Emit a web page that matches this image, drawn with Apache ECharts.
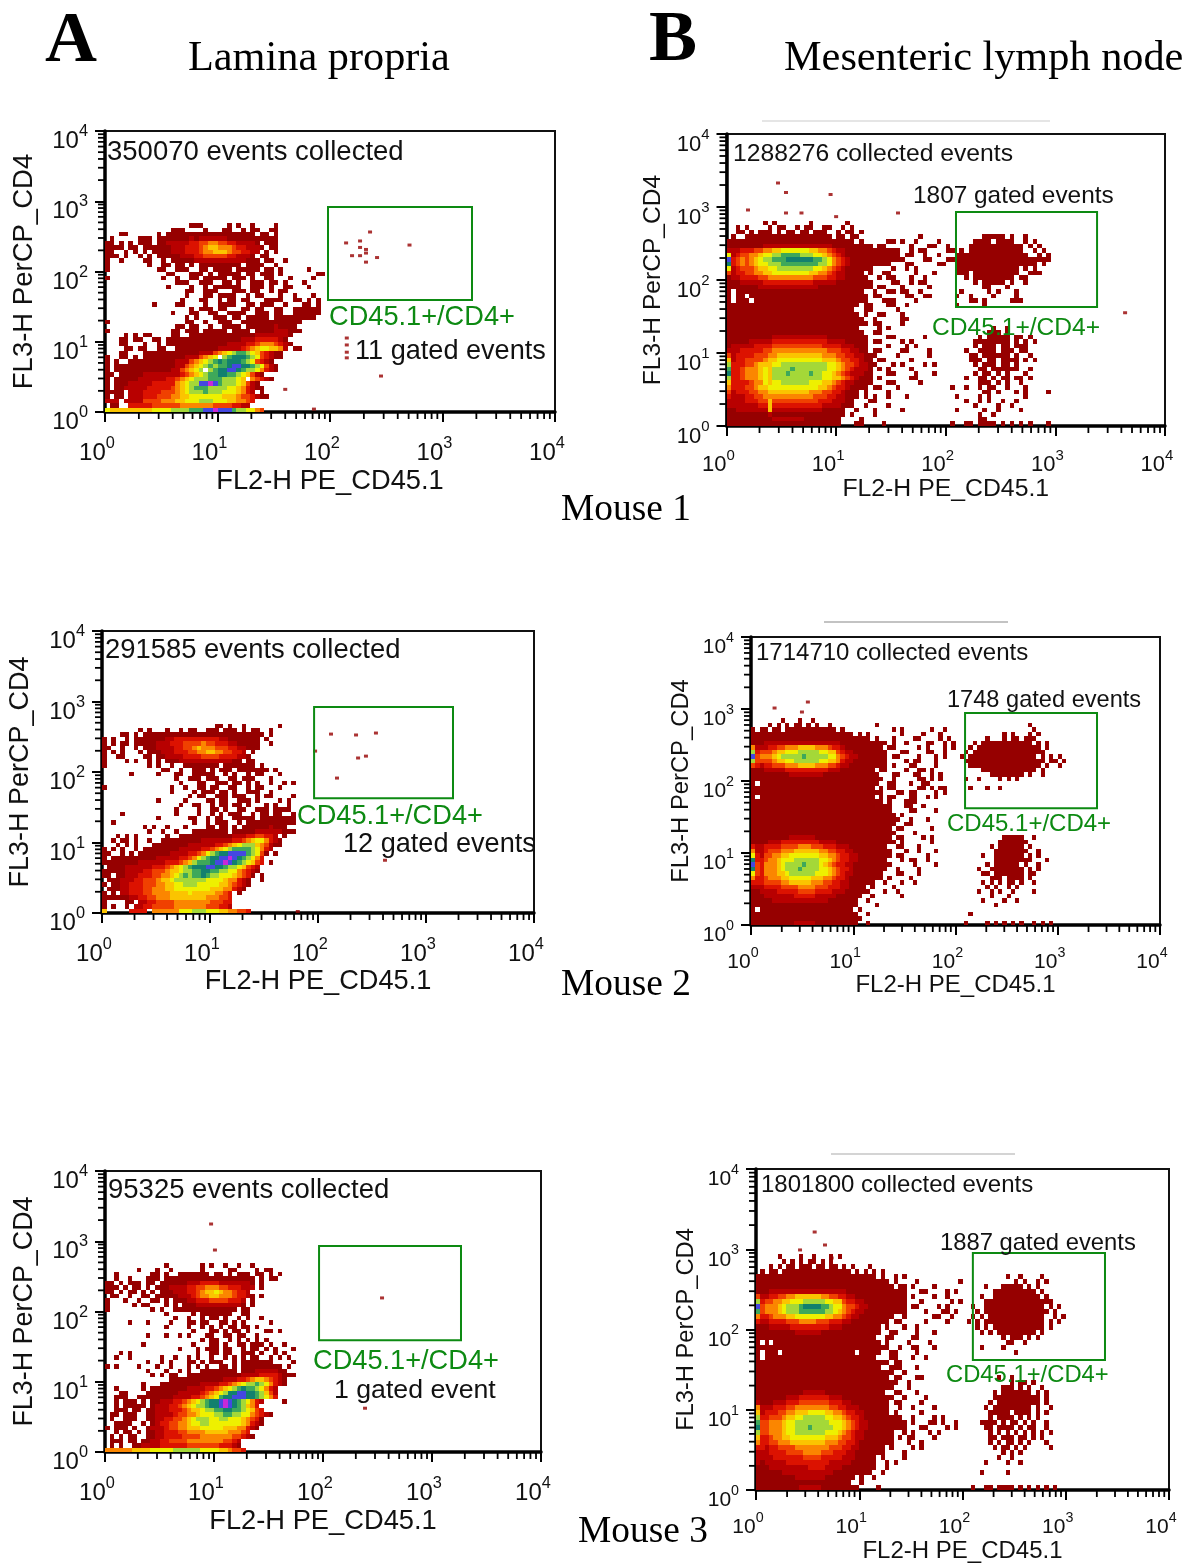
<!DOCTYPE html>
<html><head><meta charset="utf-8">
<style>html,body{margin:0;padding:0;background:#fff}#c{width:1189px;height:1563px}</style>
<script src="https://cdn.jsdelivr.net/npm/echarts@6/dist/echarts.min.js"></script>
</head><body><div id="c"></div>
<script>
// Density levels: each string is a row of log-spaced bins (top to bottom, last row = 10^0).
const densityA1 = [
"                  111     1 1  1    1",
"              111    1   11  1 11  11",
"   11      1 1111111111111111111 11 1",
" 1     111 11111112122222211111111111",
"11 1 1 111 1122222334455443322221 111",
"1111 11 11111122233345665554332221 11",
"11  1 1 1 11112223334556665443322 1 1",
"111 1  1 1 111112223344444332221 11",
"1  1    11  1 1111122222222222111 11  1",
"1        1  11 11 1 111111111 1111  1",
"1          11  111  11 1111 11111 11 1     1",
"             11   111 1 11111 11 111 1       11",
"1           1  1  11 11111 111 1  11   1    1",
"               111  111  11 1  111 11 1   1",
"             1    1  1 111111  111 1  11   1",
"                 11  111   111 11  1 11",
"                 1   11 1111  1 11   1  1   1",
"                1   11  1 11 11   1111  11 1 1",
"          1    11    1  1111  11 111  1   11 1",
"                  1 111 11   11 11  11  111111",
"              1   11  11  1111  111 11  111111",
"                 1 1   111 11 11111 111111111",
"1                11  1  111  1111111111111",
"               11 11  1  1111 11111121111",
"1             11 111 11111 1111 1111222111",
"    1 1 11    11  1111111111111122222221",
"   11 11  11 11111111111111112223333321",
"   11   1  1 111111111111122223345554321",
"    11 11  11  111111111222223456776652 11",
"   11   111111111111222456789987643211",
"1  11 1 1111111112224567 89aaa98743211",
"1 1  1111111111222456789a9aaa9874321",
"1 111111111111122456789899abbaa987421",
"1 1111111111112245678 89aabba98875321",
"11 111112222222234567899aa99876421",
"1 1111122222233456788899988876 54321",
"1 111222223333356788bbcb988876421",
"1 11222223333345678999888877653211",
"1111 222333344456788898887776532 1",
"1 11 222333444556677777776665443211",
"222 2222444455566777888777665543",
" 11  33333444444555555544443322",
"766666666677778888999bbcbbb9887754"
];
const sparseA1 = [[227,365],[139,255],[185,272],[209,206],[209,183],[157,168],[185,168],[185,220],[262,158],[209,136],[509,238],[141,11.3],[141,9],[141,7.1],[141,5.9],[284,3.25],[40,2.1],[72,1.1]];
const densityA2 = [
"                         11 1  1       1",
"        1 1   1  1 11  111 111 1 11  1",
"    11 1 111111111111111111111111111 1",
"1 1  1 1111111223333333333221111111 1",
"1 1 11 1111122233344445443332211111  1",
"11  1  1 11122223344565554443322111",
"1 1 1   1 1112223334455665544332 1",
"1  11    11 112222333344443333221",
"1    1 1  1 1 11122222222222211 11",
"1         1 1  1  11111111 1111111 1",
"             11  1  111 1 111 1111111 1",
"      1     1   11  11111  1 1  1 11   1",
"                1  111 111  11 111   1",
"                 1   11  111 11 1 1  1  1 1",
"1              1  1  11 11  11  1 11   1",
"               1    1 111 11 1  111  1",
"                   1 11  111 111  1 11    1",
"            1     1    11 11  111 1    1 1",
"                 1  11  1 11 11 1   1 1  1",
"                1    1  11 1  11  111 1111",
"    1           1    1  1 1 111  1 11 11  1",
"            1      11  1 11  11111 11111111",
"  1                 1  1 111  1 11111111111",
"         1 1  1   1    11 11 1 1111112111",
"          1  1  1   11111111 11111222222111",
"   1 1 1      1  1111111111112223344332 1",
"  1 11 1  1  111111111222222233456775321",
"   1 1 1   11111111222222334567888654211",
"1 1 1  1 11111111222223345678999987532",
"11  1 1 111111122223345789aabbbb98741 1",
"1 1111111111222223345789aabbcba98753",
"111111112222223334568999abbcba987643 1",
" 1111222222333456789aaabbaa98876432",
"1111122223344456678899aa99887754321",
"11 1122233344556789899a98877765431 1",
" 11122233444566788888887777655321  1",
"1 1122333444556677888777776654321",
" 1112233344555667777777766655321",
"1 1 2233344555566667666665543 1",
"11111122334455566666666555443",
"1    11 223344445555555544433",
"1 1  1 2233444445555555444332",
"6     3333 5555557778887776655443"
];
const sparseA2 = [[94,198],[132,345],[225,335],[344,357],[278,168],[235,158],[150,82],[417,5.6],[65,1.05]];
const densityA3 = [
"             1       1 1  1  1  1",
"       1   1  1      1     11    1 11",
"  1       11 1  1111111 11 1 111 11 1 1",
"  1  1   111 11111111111111111111 1 11",
"11 1 111 11 111111222333322222221 1",
"111 1 11 1 1112222334455544333222 1",
"11 1 11 1 1 11122233456676554332",
" 11  1  11 1111122234556655543321 1",
"1   1  1  11 1 1112233344443332 1",
"1     1 11   1 1 11122222222221 1",
"1         1 1  11111111111111 11",
"             1     1 1111111  11",
"               1  1  1 11 1  1 1  1",
"     1   1    1   11 11  11 1 1     1",
"             1    1  1 1 1 11 11 1",
"                   1   11 1 11 1   11 1",
"         1   1  1 1   11  11 11  1",
"                     1 11  1 1 1 1 1",
"        1          1   11 1  11 111 1  1",
"                1   1 111 11  1 11 1 1   1",
"   1 1              1  11 11  111 1  1 1",
"  1  1      1  1  1 1  1  1 1 1 11  1 1 1",
"         1  1 1   11 1 111  1 1111111    1",
"1 1    1   1  1   1 1 1  11 1 111111111 1",
"         1   1  1 1  11111111 1112222211",
"          1 1 11  111111111111222233332111",
"              11111111111122233456654321",
"        1   1111111112222334567889875321",
"  1     1 11111111222233456789a9987532",
"   11    111111122222345678aabbaa98642",
"  111  1111111122223345679aabbbaa98753",
"  1 111 1 1122233456789aabcba987532    1",
"  1 11111 1222334567889aabcba98653",
"  111 11 11222333456678899aa9987643",
" 11 111  1122223445567778899887754321",
" 1  111  11223344567888778877765431",
"  1111  1 1233445567788777777765321",
"1 111 1  1222344556667777766655321",
"  1 11 1 11223334455556666655543",
" 1 1 11  112233334444555555544321",
" 111 11 1122334444555555554432",
" 1 1  112222333333444444433321",
"5555556666777778888887777665443"
];
const sparseA3 = [[348,156],[243,4.2],[9.4,1760],[10.2,750]];

const densityB1 = [
"        1 1       1       1",
"  1 1    1 11  1 11  11  1 1",
"  11 1 111 1 11 11 111  1 11 1",
" 1  1111111111111111111 11 11             1",
"1111111111111111111111111111 1     11 1  1    1",
"11111111222222222222222111111111 11     1   11  1",
"22233344556677777766554322111111111111  1 11    11",
"72344556778899998887765432111111111111 11  1  1",
"b345456788999aaaaaa99875432111111111111    11   1",
"a34545677888999999998875432111111111   11     11",
"72344456677888888887765432111111    1  1 1",
"423344556677777777665543221111 1  11     1   1",
"1223333445555555555444332211111  1 11   1  1",
"11122222333333333332222211111111    11  1 11",
"11111112222222222222111111111111 11   1     1",
"1 1111111111111111111111111111  1  11 11  1",
"1 11 11111111111111111111111111 11     11  11",
"1 111 1111111111111111111111111   111    1",
"11111111111111111111111111111 11   11  1",
"1111111111111111111111111111  11     1",
"11111111111111111111111111111 1  11   1",
"111111111111111111111111111111  1     11",
"1111111111111111111111111111111 11    1",
"11111111111111111111111111111    1 1",
"111111111111111111111111111111  11",
"1111111111222222222222111111111    11      1",
"1111122222333333333333222211111 11    1 1",
"1222223333444444444443333222111    1   1 1",
"2223333344555555555555444332211 11    11    1",
"423333444556666666666555443322111    1      1",
"62334444566777777777766654433211 11     1",
"833344566677888888888877654432211   1 1    1 1",
"93345556768888988888887765432221 1 1    1",
"a3345556768889888898877654322211   11    1   1",
"83345556768888888888877665432111 1      11",
"63333455767788888877766543221111   11     1",
"5333445667777777777766543321111 11   1",
"42333445566666666655544332111 1    1",
"32223344555555555554443322111 1 1  1   1",
"2222333446444444444433322211   11",
"2222222336333333333332222111  1    1",
"11222222262222222222211111  1   1     1",
"11111111121111111111111111 1    1",
"1111111111222222211111111    1",
"1111111111111111111111111   11    1"
];
const clusterB1 = [
"        11111 1  1",
"      1111 1111  1 1",
"     111111111111 1 1",
"   1 111111111111  1 1",
"  1111111111111111  1 1",
" 1111111111111111111111",
"  111111111111111111 1",
"  11111111111111 1 1",
"  111 1111111111  111",
"    1 111111111 11",
"      1 11111 1  1",
"        11   1",
"   1     1 1   1",
"  1  1    1    1",
"     11 1     111",
"  1     1",
"",
"",
"",
"",
"          1  1",
"         111 1",
"       1 11111 11 1",
"      11111111 1 1 1",
"      1 111 11 111",
"    1  1111 111 11",
"     11 111111 1  1",
"     111 11 1111 1 1",
"      1 111 11 1",
"       11 111111  1",
"      1 11 1 1   1",
"    1  11 1 11 11 1",
"       111 1 1  1",
" 1  1  1 11  1   1",
"        11 1   1 1    1",
"  1    1 1       1",
"    1  1 1  1  1",
"      1    1  1",
"  1     1  1    1",
"       1  1",
"       11",
" 1  11 1111 1 1 1 1   1"
];
const sparseB1 = [[2.95,2132],[3.49,1580],[8.9,1483],[1.57,910],[3.49,828],[4.83,828],[10,738],[36.7,828],[4325,35.6]];

const densityB2 = [
"       1   1  1",
"    1 1 1 11 1 1  1          1",
"1 11 11 111111111111 1           1 1      1  1",
"111111111111111111111111 1 1       1    1   1",
"1111111111111111111111111111 1   1    11    1 1",
"11122222222222222222211111111111 1  1    11  1 1",
"5222334455566665554332111111111 11     1 1   1 1",
"83444566777888887766432211111111   11    11  1",
"b4555678888898888877543221111111 11    1   1 1",
"84444566778888887766532211111111    1 11   1",
"43233444555666655544322111111111 1   11    1",
"11122222333333333322211111111 11    1  11 1",
"111111111222222221111111111111   11   11  1 1",
"1111111111111111111111111111111  1     11 1 1",
"1 1111111111111111111111111111  11   1  11",
"11111111111111111111111111111 1 11     11 1 11",
"1111111111111111111111111111111   11 11    1 1",
"1 111111111111111111111111111 1 11   11  1 1",
"1111111111111111111111111111111 1   111",
"111111111111111111111111111111111   11  1",
"111111111111111111111111111111111    11    1",
"1111111111111111111111111111111111 1",
"11111111111111111111111111111111111  1   1",
"1111111111111111111111111111111111  11",
"111111111111111111111111111111111 11      1",
"1111111111111111111111111111111111    1",
"111111111222222111111111111111111 11    1 1",
"1111222333333333222211111111111111 1      1",
"32233334444555444333222111111111  11   1",
"522344455566666655443322111111111   1  1   1",
"732445566777777766554332211111111 11     1",
"a3345567778888887765433221111111   1 11  1",
"b43555678888988876543322111111111     1    1",
"a4355567888988887765433211111111  1    1",
"7435556678888887776543221111111   11   1",
"5334555667777766655433211111111 1    1",
"33344445566666555443322111111  1   1  1",
"222333344445555444333221111 1    1",
"1122223333344443333222111111   1  1",
"11122222223333322222111111  1      1",
"1111122222222222221111111  1",
"1111111111111111111111111    1",
"1 1111111111111111111111 1",
"1111111111111111111111111  1",
"11111111111111111111111111",
"1111111111222221111111111  1"
];
const clusterB2 = [
"                 1",
"                  1",
"           1 1   1 1",
"       1   1 11 111",
"    1 111111111111 1 1",
"   1 111111111111111 1",
"  1 11111111111111111",
" 1 1111111111111111 1 1 1",
"  1111111111111111111 11 1",
"   11111111111111111 1  1",
"      1111111111111 1",
"        11111111 1  1",
"  1  1    1 1 1",
"",
"   1   1  1",
"",
"",
"",
"",
"",
"",
"",
"",
"",
"",
"           11111  1",
"          1111111",
"        1 111111 1",
"         11111111  1",
"      1  1111111 1 1",
"         111111111   1",
"       1 111111 1  1",
"     1  11111111 1 1",
"      11 1111111 11",
"        111 1111 1",
"      1 1 1 11 1  1",
"       1 1  1 1",
"     1  1 1  1    1",
"        1   1",
"      1    1  1",
"         1",
"",
"   1",
"",
"  1    1 1 1 1 1  1 1 1"
];
const sparseB2 = [[3.15,908],[3.6,1250],[1.7,1032]];

const densityB3 = [
"     1    1  1   1 1",
"      1 1 1 11 1 1",
"   1 1 11 111 11 11 1 1   1",
" 1 11 1111111111111111 1 1 1 1",
"1111111111111111111111111111 1  1 1",
"1111111111111111111111111111111 1    1         1",
"11111111111111111111111111111111 11 1    1",
"11122222222222222222211111111111111   11    1 1",
"42233445566666655443322111111111111 1    1  1",
"83445566777888887766433221111111111   1      1 1",
"b4555678889aaaa99877544322111111111 11    1 1",
"94555678889999998876543221111111111    1   11 1",
"53345556677777776655432211111111  1      11  1",
"3223333444555544433322111111111 11     1    1",
"11122222333333333222111111111 1   1  1",
"11111111122222211111111111111  11    1   1",
"1111111111111111111111111111  11    11",
"1 1 1111111111111111111111111 1    1    1",
"1111111111111111111111111111111  1  11   1",
"1 111 11111111111111111 11111  11    1",
"1 11111111111111111111111111   11   1  1",
"1111111111111111111111111111111 11",
"11111111111111111111111111111  111   1",
"11111111111111111111111111111111  1",
"1111111111111111111111111111111 11   11",
"111111111111111111111111111111111  1",
"11111111111111111111111111111111   1",
"111111111112222211111111111111  11   1",
"11111112223333333222111111111111  1    1",
"2111222333444444433322111111111 11    1",
"5222333445555555544332221111111  1  1    1",
"6233344556667777665543322111111 1     1",
"8334445667788888776654332111111111  1    1 1",
"94455567788888888777654322111111111 1   11 1  1",
"a4455567788898888877654322111111111   11    1 1",
"84455567788888887776543221111111  1 1   1 1",
"63345566777777776665443221111111 1 11    1",
"53344555666666665554433211111111   1  1",
"332334444555555554443322111111 1    1 1",
"222333344445555444333221111111    1",
"2222333333344443333322211111 1    1",
"2122222333333333322222111111  1 1",
"1112222222223333222211111111  1",
"111111222222222222111111111  1",
"11111111122222221111111 1  1",
"1111111111111111111111  1",
"111111111122222111111111    1"
];
const clusterB3 = [
"          1  1    1",
"            1 1  1 1",
"     1   11111 1 1",
"       1111111111 1",
"    1  11111111111 1",
"     1111111111111111",
"  1  11111111111111 1 1",
"   1 111111111111111 1",
"  1 1 1111111111111  1 1",
" 1 1 11111111111111 1 1",
"   1 1 111111111111 1",
"    1 1 111111111 1",
"         1 111 1 1",
"          11  1",
"    1    1",
"            1",
"",
"",
"",
"",
"        1  1",
"           1 11 1",
"         111 1 1  1",
"       1 1111111 1 1",
"       11111111111 1",
"      1 1111111111 1",
"     1 111111111 1  1",
"      11111 1111 1 1",
"      1 1111 1 1 1",
"    1111 1 11 1 1  1",
"     11 1111 1 11  1",
"      1 1 1 1 1 1 1 1",
"      11 111 11 1 1",
"      1 1 11 1 1   1",
"       1 11 1 1     1",
"         1 1 1",
"        1  1",
"     1    1  1",
"",
"    1     1",
"",
"",
"  1  11 1111 1 1 1 1 1"
];
const sparseB3 = [[3.7,1640],[4.66,1130],[2.67,980],[5.4,778]];

const tickExponents = ['0','1','2','3','4'];
const minorMultipliers = [2,3,4,5,6,7,8,9];
const decades = [1,10,100,1000];
const xAxisTitle = 'FL2-H PE_CD45.1';
const yAxisTitle = 'FL3-H PerCP_CD4';
const gateLabel = 'CD45.1+/CD4+';
const gateA1=[96,1829,39.3,828], gateA2=[92,1778,42.6,835], gateA3=[92,1845,39,856];
const gateB1=[124,2400,42.7,853], gateB2=[124,2421,42,880], gateB3=[126,2399,41.7,898];

const levelColors = {'1':'#960000','2':'#b80000','3':'#dc1200','4':'#f04000','5':'#fb8600','6':'#fbc400','7':'#eef000','8':'#a4d838','9':'#3ea85a','a':'#12806e','b':'#4448e0','c':'#c828d8'};

const panels = [
 {d:densityA1,k:[],s:sparseA1,g:gateA1,L:105,R:555,T:131,B:412,xs:27.3,ys:27.5,tf:24,nameX:56,nameY:67,m:23,
  texts:[['350070 events collected',107,150,27.5],['11 gated events',355,349,27.1]],green:[329,315,27.2]},
 {d:densityA2,k:[],s:sparseA2,g:gateA2,L:102,R:534,T:631,B:913,xs:27.2,ys:27,tf:24,nameX:55,nameY:68,m:23,
  texts:[['291585 events collected',105,648,27.4],['12 gated events',343,842,27.1]],green:[297,814,27.2]},
 {d:densityA3,k:[],s:sparseA3,g:gateA3,L:105,R:541,T:1171,B:1452,xs:27.3,ys:26.9,tf:24,nameX:56,nameY:67,m:23,
  texts:[['95325 events collected',108,1188,27.5],['1 gated event',334,1388,26.7]],green:[313,1359,27.2]},
 {d:densityB1,k:clusterB1,s:sparseB1,g:gateB1,L:726.5,R:1165,T:134,B:426,xs:24.8,ys:24.6,tf:22,nameX:51,nameY:61,m:22,
  texts:[['1288276 collected events',733,152,24.7],['1807 gated events',913,195,24.4]],green:[932,326,24.6]},
 {d:densityB2,k:clusterB2,s:sparseB2,g:gateB2,L:751,R:1160,T:637,B:925,xs:24,ys:23.8,tf:21,nameX:48,nameY:57.5,m:21,
  texts:[['1714710 collected events',756,651,24],['1748 gated events',947,698,23.6]],green:[947,822,24]},
 {d:densityB3,k:clusterB3,s:sparseB3,g:gateB3,L:756,R:1169,T:1169,B:1490,xs:24,ys:23.7,tf:21,nameX:49,nameY:58,m:21,
  texts:[['1801800 collected events',761,1183,24],['1887 gated events',940,1241,23.8]],green:[946,1373,23.8]}
];

const SANS='"Liberation Sans",Arial,sans-serif', SERIF='"Liberation Serif","Times New Roman",serif';
const grids=[],xAxes=[],yAxes=[],series=[],graphics=[];

function cellsOf(rows,offset,out){
  const n=rows.length;
  rows.forEach((row,i)=>{
    const r=n-1-i;
    for(let k=0;k<row.length;k++){
      const ch=row[k], c=k+offset;
      if(ch!==' ') out.push([Math.pow(10,c/24),Math.pow(10,(c+1)/24),Math.pow(10,r/16),Math.pow(10,(r+1)/16),ch]);
    }
  });
  return out;
}
function axisLabel(p,isX){
  return {
    show:true, margin:isX?p.m:17,
    padding:isX?[0,16,0,0]:[15,0,0,0],
    formatter:v=>'{b|10}{s|'+tickExponents[Math.round(Math.log10(v))]+'}',
    rich:{b:{fontFamily:SANS,fontSize:p.tf,color:'#111',lineHeight:p.tf+6,verticalAlign:'bottom'},
          s:{fontFamily:SANS,fontSize:p.tf*0.68,color:'#111',verticalAlign:'top',lineHeight:p.tf*0.68}}
  };
}
panels.forEach((p,i)=>{
  grids.push({left:p.L,top:p.T,width:p.R-p.L,height:p.B-p.T,show:true,borderColor:'#111',borderWidth:2,backgroundColor:'#fff',containLabel:false,outerBoundsMode:'none'});
  const common={type:'log',logBase:10,min:1,max:10000,gridIndex:i,splitLine:{show:false},minorTick:{show:false},minorSplitLine:{show:false},
    axisLine:{show:true,onZero:false,lineStyle:{color:'#000',width:3.5}},
    axisTick:{show:true,length:10,lineStyle:{color:'#000',width:2}},nameLocation:'middle',nameMoveOverlap:false};
  xAxes.push(Object.assign({},common,{name:xAxisTitle,nameGap:p.nameX,nameTextStyle:{fontFamily:SANS,fontSize:p.xs,color:'#111'},axisLabel:axisLabel(p,true)}));
  yAxes.push(Object.assign({},common,{name:yAxisTitle,nameGap:p.nameY,nameTextStyle:{fontFamily:SANS,fontSize:p.ys,color:'#111'},axisLabel:axisLabel(p,false)}));

  const cells=[]; cellsOf(p.d,0,cells); cellsOf(p.k,48,cells);
  series.push({type:'custom',xAxisIndex:i,yAxisIndex:i,silent:true,animation:false,clip:true,z:2,
    data:cells.map(c=>c.slice(0,4)),encode:{x:[0,1],y:[2,3]},
    renderItem:(params,api)=>{
      const a=api.coord([api.value(0),api.value(2)]), b=api.coord([api.value(1),api.value(3)]);
      const x=Math.round(a[0]),y=Math.round(b[1]);
      return {type:'rect',shape:{x:x,y:y,width:Math.round(b[0])-x,height:Math.round(a[1])-y},style:{fill:levelColors[cells[params.dataIndex][4]]}};
    }});
  series.push({type:'scatter',xAxisIndex:i,yAxisIndex:i,silent:true,animation:false,z:3,symbol:'rect',symbolSize:[4,3],
    itemStyle:{color:'#960000'},data:p.s});
  series.push({type:'custom',xAxisIndex:i,yAxisIndex:i,silent:true,animation:false,z:4,clip:false,
    data:[p.g],encode:{x:[0,1],y:[2,3]},
    renderItem:(params,api)=>{
      const a=api.coord([api.value(0),api.value(2)]), b=api.coord([api.value(1),api.value(3)]);
      return {type:'rect',shape:{x:a[0],y:b[1],width:b[0]-a[0],height:a[1]-b[1]},style:{fill:'none',stroke:'#0d8a12',lineWidth:2}};
    }});
  const minorVals=[];
  decades.forEach(d=>minorMultipliers.forEach(m=>minorVals.push(d*m)));
  series.push({type:'custom',xAxisIndex:i,yAxisIndex:i,silent:true,animation:false,z:5,clip:false,
    data:minorVals.map(v=>[v,1]),encode:{x:0,y:1},
    renderItem:(params,api)=>{const a=api.coord([api.value(0),1]);
      return {type:'line',shape:{x1:a[0],y1:a[1],x2:a[0],y2:a[1]+7},style:{stroke:'#000',lineWidth:1.8}};}});
  series.push({type:'custom',xAxisIndex:i,yAxisIndex:i,silent:true,animation:false,z:5,clip:false,
    data:minorVals.map(v=>[1,v]),encode:{x:0,y:1},
    renderItem:(params,api)=>{const a=api.coord([1,api.value(1)]);
      return {type:'line',shape:{x1:a[0],y1:a[1],x2:a[0]-7,y2:a[1]},style:{stroke:'#000',lineWidth:1.8}};}});

  p.texts.forEach(t=>graphics.push({type:'text',left:t[1],top:t[2]-t[3]*0.42,z:20,style:{text:t[0],fill:'#111',font:t[3]+'px '+SANS}}));
  graphics.push({type:'text',left:p.green[0],top:p.green[1]-p.green[2]*0.42,z:20,style:{text:gateLabel,fill:'#0d8a12',font:p.green[2]+'px '+SANS}});
});
[['A',45,37,72,'bold '],['B',649,36,72,'bold '],['Lamina propria',188,56,42.3,''],['Mesenteric lymph node',784,56,42.3,''],
 ['Mouse 1',561,507,37.4,''],['Mouse 2',561,982,37.4,''],['Mouse 3',578,1529,37.4,'']].forEach(t=>{
  graphics.push({type:'text',left:t[1],top:t[2]-t[3]*0.42,z:20,style:{text:t[0],fill:'#000',font:t[4]+t[3]+'px '+SERIF}});
});
[[762,1050,121,'#cccccc'],[824,1008,622,'#888888'],[831,1015,1154,'#aaaaaa']].forEach(l=>{
  graphics.push({type:'line',z:20,shape:{x1:l[0],y1:l[2],x2:l[1],y2:l[2]},style:{stroke:l[3],lineWidth:1.2}});
});
const chart=echarts.init(document.getElementById('c'),null,{renderer:'canvas'});
chart.setOption({animation:false,backgroundColor:'#fff',grid:grids,xAxis:xAxes,yAxis:yAxes,series:series,graphic:{elements:graphics}});
</script></body></html>
